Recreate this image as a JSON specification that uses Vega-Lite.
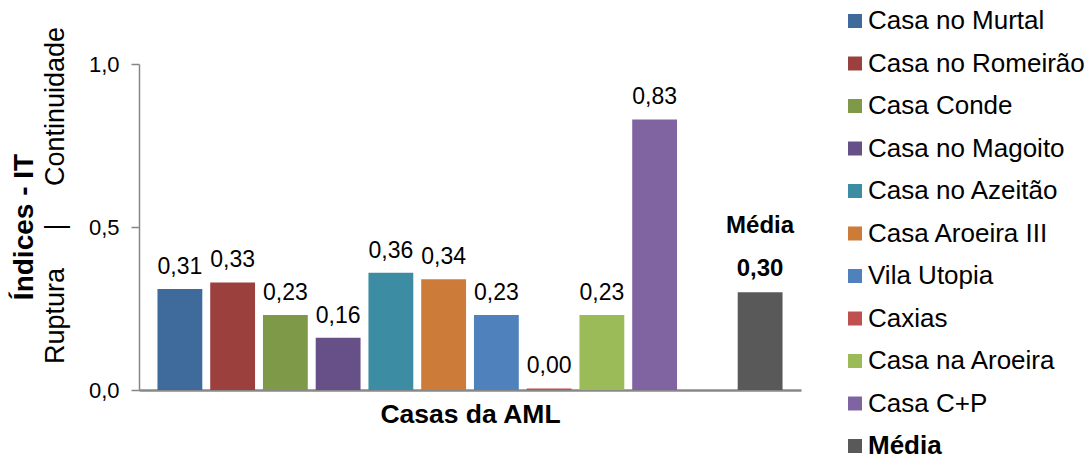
{
  "$schema": "https://vega.github.io/schema/vega-lite/v6.json",
  "width": 662,
  "height": 326,
  "autosize": {"type": "none"},
  "padding": {"left": 139, "top": 64, "right": 290, "bottom": 69},
  "config": {
    "font": "Liberation Sans",
    "view": {"stroke": null},
    "locale": {"number": {"decimal": ",", "thousands": ".", "grouping": [3], "currency": ["", " €"]}}
  },
  "title": {"text": "Índices - IT", "orient": "left", "anchor": "middle", "fontSize": 28, "fontWeight": "bold", "color": "black", "offset": 2},
  "data": {
    "values": [
      {"casa": "Casa no Murtal", "it": 0.31},
      {"casa": "Casa no Romeirão", "it": 0.33},
      {"casa": "Casa Conde", "it": 0.23},
      {"casa": "Casa no Magoito", "it": 0.16},
      {"casa": "Casa no Azeitão", "it": 0.36},
      {"casa": "Casa Aroeira III", "it": 0.34},
      {"casa": "Vila Utopia", "it": 0.23},
      {"casa": "Caxias", "it": 0.0049},
      {"casa": "Casa na Aroeira", "it": 0.23},
      {"casa": "Casa C+P", "it": 0.83},
      {"casa": "Média", "it": 0.30}
    ]
  },
  "encoding": {
    "x": {
      "field": "casa", "type": "nominal", "sort": null,
      "scale": {
        "domain": ["Casa no Murtal", "Casa no Romeirão", "Casa Conde", "Casa no Magoito", "Casa no Azeitão", "Casa Aroeira III", "Vila Utopia", "Caxias", "Casa na Aroeira", "Casa C+P", " ", "Média"],
        "paddingInner": 0.15, "paddingOuter": 0.35
      },
      "axis": {"title": "Casas da AML", "titleFontSize": 26.5, "titleFontWeight": "bold", "titleColor": "black", "labels": false, "ticks": false, "domainColor": "#888888", "domainWidth": 2.5, "titlePadding": 11}
    },
    "y": {
      "field": "it", "type": "quantitative",
      "scale": {"domain": [0, 1], "nice": false},
      "axis": {
        "title": "Ruptura\u00a0\u00a0\u00a0\u00a0\u00a0|\u00a0\u00a0\u00a0\u00a0\u00a0Continuidade",
        "titleFontSize": 27, "titleFontWeight": "normal", "titleColor": "black", "titleY": 131, "titlePadding": 19,
        "values": [0, 0.5, 1], "format": ".1f", "labelFontSize": 22, "labelColor": "black",
        "grid": false, "domainColor": "#868686", "tickColor": "#868686", "tickSize": 8, "labelPadding": 12, "domainWidth": 1.5, "tickWidth": 1.5
      }
    }
  },
  "layer": [
    {
      "mark": {"type": "bar"},
      "encoding": {
        "color": {
          "field": "casa", "type": "nominal", "sort": null,
          "scale": {
            "domain": ["Casa no Murtal", "Casa no Romeirão", "Casa Conde", "Casa no Magoito", "Casa no Azeitão", "Casa Aroeira III", "Vila Utopia", "Caxias", "Casa na Aroeira", "Casa C+P", "Média"],
            "range": ["#3E6A9C", "#9C403D", "#7E9A48", "#674F87", "#3C8DA3", "#CC7B38", "#4F81BD", "#C0504D", "#9BBB59", "#8064A2", "#595959"]
          },
          "legend": {
            "title": null, "orient": "none", "legendX": 703, "legendY": -56,
            "symbolType": "square", "symbolSize": 196, "symbolStrokeWidth": 0, "symbolOpacity": 1,
            "labelFontSize": 26, "labelColor": "black", "labelOffset": 0, "rowPadding": 16.5, "labelLimit": 400,
            "encode": {"labels": {"update": {"fontWeight": {"signal": "datum.label === 'Média' ? 'bold' : 'normal'"}}}}
          }
        }
      }
    },
    {
      "transform": [{"filter": "datum.casa !== 'Média'"}],
      "mark": {"type": "text", "dy": -15, "fontSize": 23, "baseline": "alphabetic", "color": "black"},
      "encoding": {"text": {"field": "it", "type": "quantitative", "format": ".2f"}}
    },
    {
      "transform": [{"filter": "datum.casa === 'Média'"}],
      "mark": {"type": "text", "dy": -16, "fontSize": 24, "fontWeight": "bold", "baseline": "alphabetic", "color": "black"},
      "encoding": {"text": {"field": "it", "type": "quantitative", "format": ".2f"}}
    },
    {
      "transform": [{"filter": "datum.casa === 'Média'"}],
      "mark": {"type": "text", "dy": -59, "fontSize": 24, "fontWeight": "bold", "baseline": "alphabetic", "color": "black"},
      "encoding": {"text": {"field": "casa", "type": "nominal"}}
    }
  ]
}
